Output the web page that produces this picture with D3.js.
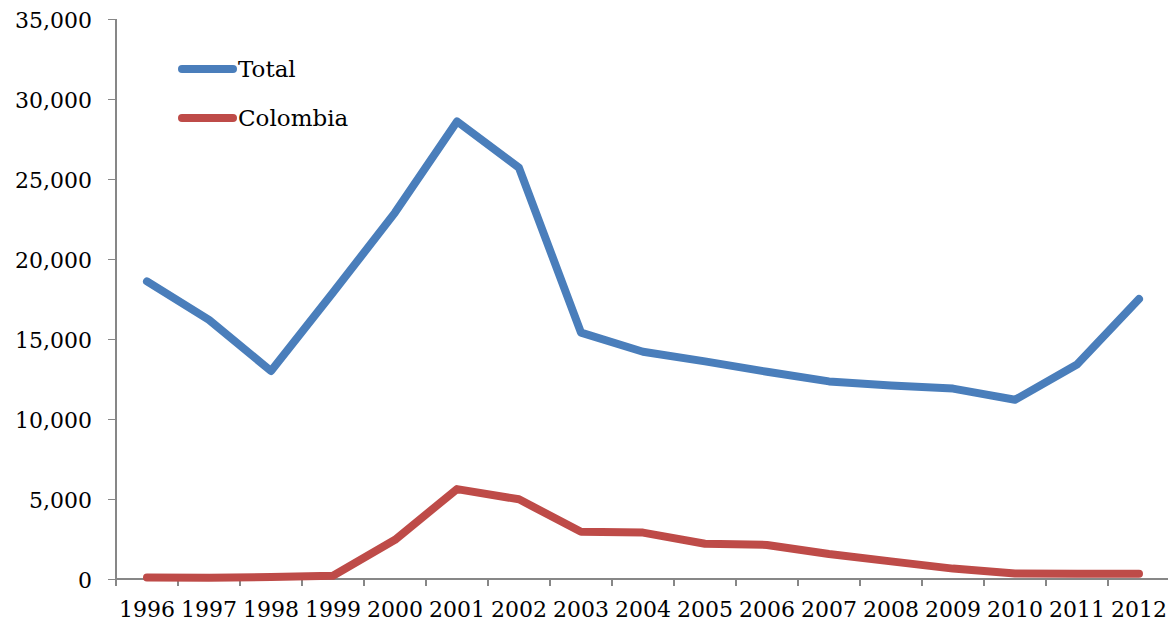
<!DOCTYPE html>
<meta charset="utf-8">
<style>
body{
	margin:0;
	background:#fff;
}
text{
	font-family:"DejaVu Serif", serif;
	font-size:22px;
	fill:#000;
}
.legend text{
	font-size:23px;
}
.axis path, .axis line{
	stroke:#878787;
	stroke-width:1.5px;
	shape-rendering:crispEdges;
}
.series{
	fill:none;
	stroke-width:8px;
	stroke-linejoin:round;
	stroke-linecap:round;
}
</style>
<body>
<script src="https://d3js.org/d3.v7.min.js"></script>
<script>

var years=["1996","1997","1998","1999","2000","2001","2002","2003","2004","2005","2006","2007","2008","2009","2010","2011","2012"];
var total=[18600,16200,13000,17900,22900,28600,25700,15400,14200,13600,12950,12350,12100,11900,11200,13400,17500];
var colombia=[100,80,120,200,2450,5620,4980,2950,2900,2200,2130,1560,1100,650,350,330,330];
var yTicks=[0,5000,10000,15000,20000,25000,30000,35000];

var seriesNames=["Total","Colombia"];
var seriesValues=[total,colombia];
var color={Total:"#4a7ebb", Colombia:"#be4b48"};

var width=1168, height=628;
var svg=d3.select("body").append("svg").attr("width",width).attr("height",height);

var x=d3.scaleBand().domain(years).range([116,1170]).padding(0);
var y=d3.scaleLinear().domain([0,35000]).range([579,19]);

// y axis
var yAxis=svg.append("g").attr("class","axis").attr("transform","translate(116,0)")
	.call(d3.axisLeft(y).tickValues(yTicks).tickSize(8).tickPadding(16).tickFormat(d3.format(",")));
yAxis.select(".domain").attr("d","M0,"+y(35000)+"V"+y(0));
yAxis.selectAll("text").attr("dy","0.4em");

// x axis: labels in band centres, tick marks on band edges
var xAxis=svg.append("g").attr("class","axis").attr("transform","translate(0,579)");
xAxis.call(d3.axisBottom(x).tickSize(0).tickPadding(22));
xAxis.select(".domain").attr("d","M"+x.range()[0]+",0H"+width);
xAxis.selectAll(".edge").data(years).enter().append("line").attr("class","edge")
	.attr("x1",d=>x(d)).attr("x2",d=>x(d))
	.attr("y1",0).attr("y2",7);
xAxis.selectAll("text").attr("dy","0.71em");

var line=d3.line()
	.x((d,i)=>x(years[i])+x.bandwidth()/2)
	.y(d=>y(d));

seriesNames.forEach(function(name,k){
	svg.append("path").attr("class","series")
		.attr("stroke",color[name])
		.attr("d",line(seriesValues[k]));
});

// legend
var legend=svg.append("g").attr("class","legend").selectAll("g").data(seriesNames).enter().append("g")
	.attr("transform",(d,i)=>"translate(182,"+(69+i*49)+")");
legend.append("line").attr("class","series")
	.attr("x1",0).attr("x2",51).attr("y1",0).attr("y2",0)
	.attr("stroke",d=>color[d]);
legend.append("text").attr("x",56).attr("y",8).text(d=>d);

</script>
</body>
</html>
